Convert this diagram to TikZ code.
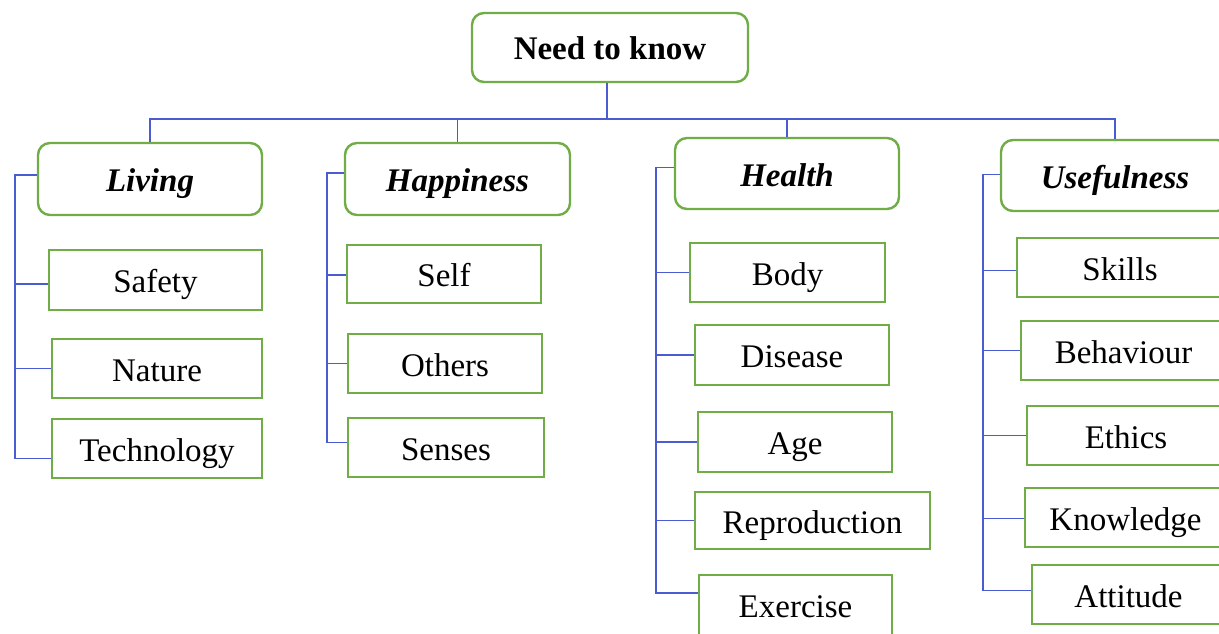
\documentclass[tikz,border=0pt]{standalone}
\usepackage{fontspec}
\setmainfont{Liberation Serif}
\definecolor{boxgreen}{RGB}{112,173,71}
\definecolor{connblue}{RGB}{75,92,210}
\tikzset{
  basebox/.style={draw=boxgreen,line width=2.4pt,fill=white,inner sep=0pt,
    text height=32pt,text depth=7pt},
  rootbox/.style={basebox,rounded corners=12pt,
    font=\fontsize{33}{36}\selectfont\bfseries},
  catbox/.style={basebox,rounded corners=12pt,
    font=\fontsize{33}{36}\selectfont\bfseries\itshape},
  leafbox/.style={basebox,
    font=\fontsize{33}{36}\selectfont},
  conn/.style={draw=connblue,line width=1.3pt}
}
\begin{document}
\begin{tikzpicture}[x=1pt,y=-1pt]
\useasboundingbox (0,0) rectangle (1219,634);
\clip (0,0) rectangle (1219,634);
% root
\node[rootbox,minimum width=276pt,minimum height=69pt] (root) at (610,47.5) {Need to know};
% categories
\node[catbox,minimum width=224pt,minimum height=72pt] (living) at (150,179) {Living};
\node[catbox,minimum width=225pt,minimum height=72pt] (happy) at (457.5,179) {Happiness};
\node[catbox,minimum width=224pt,minimum height=71pt] (health) at (787,173.5) {Health};
\node[catbox,minimum width=228pt,minimum height=71pt] (useful) at (1115,175.5) {Usefulness};
% living leaves
\node[leafbox,minimum width=213pt,minimum height=60pt] (safety) at (155.5,280) {Safety};
\node[leafbox,minimum width=210pt,minimum height=59pt] (nature) at (157,368.5) {Nature};
\node[leafbox,minimum width=210pt,minimum height=59pt] (tech) at (157,448.5) {Technology};
% happiness leaves
\node[leafbox,minimum width=194pt,minimum height=58pt] (self) at (444,274) {Self};
\node[leafbox,minimum width=194pt,minimum height=59pt] (others) at (445,363.5) {Others};
\node[leafbox,minimum width=196pt,minimum height=59pt] (senses) at (446,447.5) {Senses};
% health leaves
\node[leafbox,minimum width=195pt,minimum height=59pt] (body) at (787.5,272.5) {Body};
\node[leafbox,minimum width=194pt,minimum height=60pt] (disease) at (792,355) {Disease};
\node[leafbox,minimum width=194pt,minimum height=60pt] (age) at (795,442) {Age};
\node[leafbox,minimum width=235pt,minimum height=57pt] (repro) at (812.5,520.5) {Reproduction};
\node[leafbox,minimum width=193pt,minimum height=60pt] (exercise) at (795.5,605) {Exercise};
% usefulness leaves
\node[leafbox,minimum width=206pt,minimum height=59pt] (skills) at (1120,267.5) {Skills};
\node[leafbox,minimum width=205pt,minimum height=59pt] (behav) at (1123.5,350.5) {Behaviour};
\node[leafbox,minimum width=198pt,minimum height=59pt] (ethics) at (1126,435.5) {Ethics};
\node[leafbox,minimum width=201pt,minimum height=59pt] (knowl) at (1125.5,517.5) {Knowledge};
\node[leafbox,minimum width=193pt,minimum height=59pt] (attit) at (1128.5,594.5) {Attitude};
% bus coordinates
\coordinate (bus) at (607,119);
\coordinate (lsp) at (15,0);
\coordinate (hsp) at (327,0);
\coordinate (esp) at (656,0);
\coordinate (usp) at (983,0);
% top connectors
\draw[conn] (root.south -| bus) -- (bus);
\draw[conn] (living.north) |- (bus) -| (useful.north);
\draw[conn] (happy.north) -- (happy.north |- bus);
\draw[conn] (health.north) -- (health.north |- bus);
% living spine
\draw[conn] ([yshift=4pt]living.west) -- ([yshift=4pt]living.west -| lsp) |- ([yshift=-10pt]tech.west);
\draw[conn] ([yshift=-4pt]safety.west) -- ([yshift=-4pt]safety.west -| lsp);
\draw[conn] (nature.west) -- (nature.west -| lsp);
% happiness spine
\draw[conn] ([yshift=6pt]happy.west) -- ([yshift=6pt]happy.west -| hsp) |- ([yshift=5pt]senses.west);
\draw[conn] ([yshift=-1pt]self.west) -- ([yshift=-1pt]self.west -| hsp);
\draw[conn] (others.west) -- (others.west -| hsp);
% health spine
\draw[conn] ([yshift=6pt]health.west) -- ([yshift=6pt]health.west -| esp) |- ([yshift=12pt]exercise.west);
\draw[conn] (body.west) -- (body.west -| esp);
\draw[conn] (disease.west) -- (disease.west -| esp);
\draw[conn] (age.west) -- (age.west -| esp);
\draw[conn] (repro.west) -- (repro.west -| esp);
% usefulness spine
\draw[conn] ([yshift=1pt]useful.west) -- ([yshift=1pt]useful.west -| usp) |- ([yshift=4pt]attit.west);
\draw[conn] ([yshift=-3pt]skills.west) -- ([yshift=-3pt]skills.west -| usp);
\draw[conn] (behav.west) -- (behav.west -| usp);
\draw[conn] (ethics.west) -- (ethics.west -| usp);
\draw[conn] ([yshift=-1pt]knowl.west) -- ([yshift=-1pt]knowl.west -| usp);
\end{tikzpicture}
\end{document}
